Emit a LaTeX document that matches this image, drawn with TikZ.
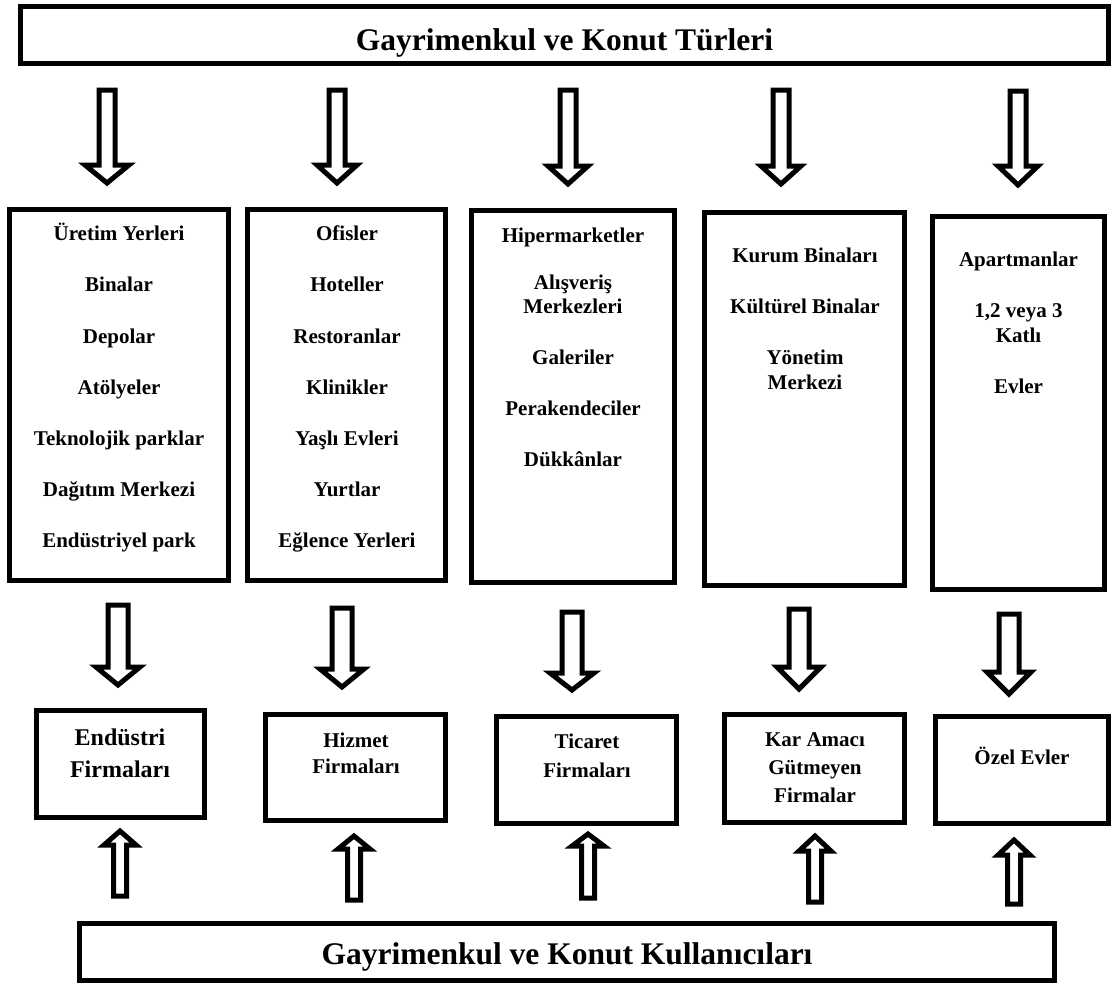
\documentclass[tikz,border=0pt]{standalone}
\usepackage{fontspec}
\setmainfont{Liberation Serif}
\tikzset{
  box/.style={draw, line width=5pt, line join=miter, inner sep=0pt},
  blk/.style={draw, line width=5pt, line join=miter, miter limit=10, fill=white},
  txt/.style={anchor=base, inner sep=0pt, font=\fontsize{21}{25}\selectfont\bfseries},
  txtb/.style={anchor=base, inner sep=0pt, font=\fontsize{24}{28}\selectfont\bfseries},
  big/.style={anchor=base, inner sep=0pt, font=\fontsize{31.5}{36}\selectfont\bfseries},
}
% box: name, x1, y1, x2, y2 (outer edges, y downward)
\newcommand\bx[5]{\node[box, minimum width={#4-#2-5}, minimum height={#5-#3-5}] (#1) at ({(#2+#4)/2},{(#3+#5)/2}) {};}
% block arrow: cx, y start, y tip, shaft half, head half, y head base
\newcommand\barr[6]{\draw[blk] ({#1-#4},#2) -- ({#1+#4},#2) -- ({#1+#4},#6) -- ({#1+#5},#6) -- (#1,#3) -- ({#1-#5},#6) -- ({#1-#4},#6) -- cycle;}
\begin{document}
\begin{tikzpicture}[x=1pt,y=-1pt]
\useasboundingbox (0,0) rectangle (1112,985);
% top and bottom boxes
\bx{top}{18}{4}{1111}{66}
\node[big] (toptxt) at (564.5,50) {Gayrimenkul ve Konut Türleri};
\bx{bot}{77}{921}{1057}{983}
\node[big] (bottxt) at (567,964) {Gayrimenkul ve Konut Kullanıcıları};
% middle boxes
\bx{m1}{7}{207}{231}{583}
\bx{m2}{245}{207}{448}{583}
\bx{m3}{469}{208}{677}{585}
\bx{m4}{702}{210}{907}{588}
\bx{m5}{930}{214}{1107}{592}
\foreach \y/\t in {240/Üretim Yerleri, 291/Binalar, 343/Depolar, 394/Atölyeler, 445/Teknolojik parklar, 496/Dağıtım Merkezi, 547/Endüstriyel park}
  \node[txt] (a\y) at (119,\y) {\t};
\foreach \y/\t in {240/Ofisler, 291/Hoteller, 343/Restoranlar, 394/Klinikler, 445/Yaşlı Evleri, 496/Yurtlar, 547/Eğlence Yerleri}
  \node[txt] (b\y) at (347,\y) {\t};
\foreach \y/\t in {242/Hipermarketler, 289/Alışveriş, 313/Merkezleri, 364/Galeriler, 415/Perakendeciler, 466/Dükkânlar}
  \node[txt] (c\y) at (573,\y) {\t};
\foreach \y/\t in {262/Kurum Binaları, 313/Kültürel Binalar, 364/Yönetim, 389/Merkezi}
  \node[txt] (d\y) at (805,\y) {\t};
\foreach \y/\t in {266/Apartmanlar, 317/{1,2 veya 3}, 342/Katlı, 393/Evler}
  \node[txt] (e\y) at (1018.5,\y) {\t};
% lower boxes
\bx{f1}{34}{708}{207}{820}
\bx{f2}{263}{712}{448}{823}
\bx{f3}{494}{714}{679}{826}
\bx{f4}{722}{712}{907}{825}
\bx{f5}{933}{714}{1111}{826}
\node[txtb] (f1a) at (120,745) {Endüstri};
\node[txtb] (f1b) at (120,777) {Firmaları};
\node[txt] (f2a) at (356,747) {Hizmet};
\node[txt] (f2b) at (356,773) {Firmaları};
\node[txt] (f3a) at (587,748) {Ticaret};
\node[txt] (f3b) at (587,777) {Firmaları};
\node[txt] (f4a) at (815,746) {Kar Amacı};
\node[txt] (f4b) at (815,774) {Gütmeyen};
\node[txt] (f4c) at (815,802) {Firmalar};
\node[txt] (f5a) at (1022,764) {Özel Evler};
% top arrows (down)
\barr{107}{90}{183}{8}{22}{165}
\barr{337}{90}{183}{8}{20}{165}
\barr{568}{90}{184}{8}{20}{166}
\barr{781}{90}{184}{8}{20}{166}
\barr{1018}{91}{185}{8}{20}{166}
% middle arrows (down)
\barr{118}{605}{685}{10}{22}{667}
\barr{342}{608}{687}{10}{22}{669}
\barr{572}{612}{690}{10}{22}{673}
\barr{799}{609}{689}{10}{22}{667}
\barr{1009}{614}{694}{10}{22}{672}
% bottom arrows (up)
\barr{120}{896}{831}{6.5}{16}{845}
\barr{354}{900}{836}{6.5}{16}{849}
\barr{588}{898}{834}{6.5}{16}{846}
\barr{815}{902}{836}{6.5}{16}{851}
\barr{1014}{904}{840}{6.5}{16}{855}
\end{tikzpicture}
\end{document}
